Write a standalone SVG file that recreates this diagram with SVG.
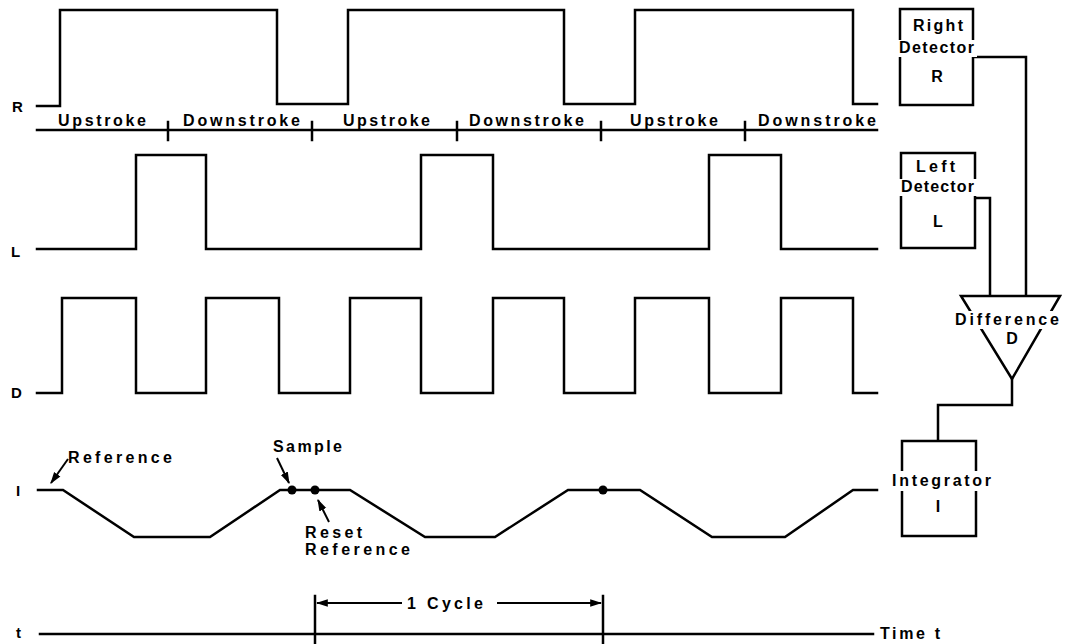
<svg xmlns="http://www.w3.org/2000/svg" width="1076" height="644" viewBox="0 0 1076 644">
<style>
.w{fill:none;stroke:#000;stroke-width:2.5;stroke-linejoin:miter;stroke-linecap:square}
.t{font-family:"Liberation Sans",Arial,sans-serif;font-weight:bold;font-size:16px;fill:#000}
.lb{font-family:"Liberation Sans",Arial,sans-serif;font-weight:bold;font-size:15px;fill:#000}
.box{fill:#fff;stroke:#000;stroke-width:2.5}
.wh{fill:#fff;stroke:none}
.ar{fill:none;stroke:#000;stroke-width:2}
</style>
<defs>
<marker id="ah" viewBox="0 0 10 10" refX="9" refY="5" markerWidth="6" markerHeight="6" orient="auto" markerUnits="strokeWidth">
<path d="M0,1.8 L10,5 L0,8.2 Z" fill="#000"/>
</marker>
</defs>
<rect width="1076" height="644" fill="#fff"/>

<g id="wave-R">
<text class="lb" x="12" y="112">R</text>
<polyline class="w" points="37,106 60,106 60,10 277,10 277,104 348,104 348,10 564,10 564,104 635,104 635,10 853,10 853,104 877,104"/>
</g>

<g id="stroke-axis">
<line class="w" x1="37" y1="130" x2="877" y2="130"/>
<line class="w" x1="168" y1="122" x2="168" y2="140"/>
<line class="w" x1="312" y1="122" x2="312" y2="140"/>
<line class="w" x1="457" y1="122" x2="457" y2="140"/>
<line class="w" x1="601" y1="122" x2="601" y2="140"/>
<line class="w" x1="745" y1="122" x2="745" y2="140"/>
<text class="t" x="58" y="126" textLength="88" lengthAdjust="spacing">Upstroke</text>
<text class="t" x="183" y="126" textLength="117" lengthAdjust="spacing">Downstroke</text>
<text class="t" x="343" y="126" textLength="87" lengthAdjust="spacing">Upstroke</text>
<text class="t" x="469" y="126" textLength="115" lengthAdjust="spacing">Downstroke</text>
<text class="t" x="630" y="126" textLength="88" lengthAdjust="spacing">Upstroke</text>
<text class="t" x="758" y="126" textLength="118" lengthAdjust="spacing">Downstroke</text>
</g>

<g id="wave-L">
<text class="lb" x="11" y="257">L</text>
<polyline class="w" points="37,249 136,249 136,155 206,155 206,249 421,249 421,155 493,155 493,249 709,249 709,155 781,155 781,249 877,249"/>
</g>

<g id="wave-D">
<text class="lb" x="11" y="398">D</text>
<polyline class="w" points="37,393 62,393 62,298 136,298 136,393 206,393 206,298 279,298 279,393 350,393 350,298 421,298 421,393 493,393 493,298 564,298 564,393 635,393 635,298 709,298 709,393 781,393 781,298 853,298 853,393 877,393"/>
</g>

<g id="wave-I">
<text class="lb" x="16" y="496">I</text>
<polyline class="w" points="38,490 63,490 134,537 210,537 280,490 350,490 425,537 495,537 568,490 640,490 712,537 785,537 853,490 877,490"/>
<circle cx="292" cy="490" r="4.5" fill="#000"/>
<circle cx="315" cy="490" r="4.5" fill="#000"/>
<circle cx="603" cy="490" r="4.5" fill="#000"/>
<text class="t" x="68" y="463" textLength="104" lengthAdjust="spacing">Reference</text>
<line class="ar" x1="68" y1="459" x2="51" y2="483" marker-end="url(#ah)"/>
<text class="t" x="273" y="452" textLength="69" lengthAdjust="spacing">Sample</text>
<line class="ar" x1="277" y1="458" x2="289" y2="483" marker-end="url(#ah)"/>
<text class="t" x="305" y="538" textLength="57" lengthAdjust="spacing">Reset</text>
<text class="t" x="305" y="555" textLength="105" lengthAdjust="spacing">Reference</text>
<line class="ar" x1="329" y1="522" x2="318" y2="500" marker-end="url(#ah)"/>
</g>

<g id="time-axis">
<text class="lb" x="16" y="638">t</text>
<line class="w" x1="40" y1="634" x2="873" y2="634"/>
<line class="w" x1="315" y1="596" x2="315" y2="644"/>
<line class="w" x1="603" y1="596" x2="603" y2="644"/>
<line class="ar" x1="402" y1="603" x2="317" y2="603" marker-end="url(#ah)"/>
<line class="ar" x1="497" y1="603" x2="601" y2="603" marker-end="url(#ah)"/>
<text class="t" x="407" y="609" textLength="76" lengthAdjust="spacing">1 Cycle</text>
<text class="t" x="880" y="639" textLength="60" lengthAdjust="spacing">Time t</text>
</g>

<g id="connectors">
<polyline class="w" points="973,57 1026,57 1026,296"/>
<polyline class="w" points="975,198 990,198 990,296"/>
<polyline class="w" points="1012,379 1012,405 938,405 938,441"/>
</g>

<g id="right-detector">
<rect class="box" x="900" y="9" width="73" height="96"/>
<rect class="wh" x="897" y="40" width="80" height="17"/>
<text class="t" x="913" y="31" textLength="50" lengthAdjust="spacing">Right</text>
<text class="t" x="899" y="53" textLength="75" lengthAdjust="spacing">Detector</text>
<text class="t" x="937" y="82" text-anchor="middle">R</text>
</g>

<g id="left-detector">
<rect class="box" x="901" y="153" width="74" height="95"/>
<rect class="wh" x="898" y="179" width="80" height="17"/>
<text class="t" x="916" y="172" textLength="39" lengthAdjust="spacing">Left</text>
<text class="t" x="901" y="192" textLength="73" lengthAdjust="spacing">Detector</text>
<text class="t" x="938" y="227" text-anchor="middle">L</text>
</g>

<g id="difference">
<polygon class="box" points="961,296 1060,296 1012,379"/>
<rect class="wh" x="953" y="311" width="108" height="18"/>
<text class="t" x="955" y="325" textLength="104" lengthAdjust="spacing">Difference</text>
<text class="t" x="1012" y="344" text-anchor="middle">D</text>
</g>

<g id="integrator">
<rect class="box" x="902" y="441" width="74" height="95"/>
<rect class="wh" x="890" y="471" width="104" height="20"/>
<text class="t" x="892" y="486" textLength="99" lengthAdjust="spacing">Integrator</text>
<text class="t" x="938" y="512" text-anchor="middle">I</text>
</g>
</svg>
